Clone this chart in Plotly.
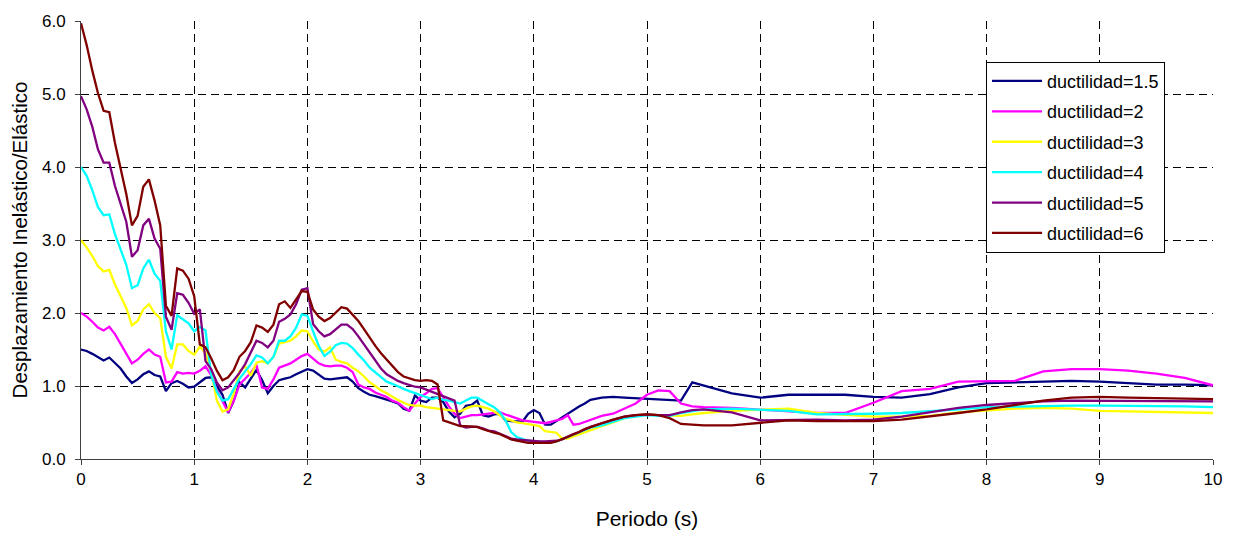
import numpy as np
import plotly.graph_objects as go

# Period grid (s): fine step up to 4.5 s, coarser beyond
periodo = (
    [round(0.05 * i, 2) for i in range(91)]
    + [4.6, 4.7, 4.8, 4.9, 5.0, 5.1, 5.2, 5.3, 5.4, 5.5]
    + [5.75, 6.0, 6.25, 6.5, 6.75, 7.0, 7.25, 7.5, 7.75, 8.0, 8.25, 8.5,
       8.75, 9.0, 9.25, 9.5, 9.75, 10.0]
)

mu_1_5 = [
    1.50, 1.48, 1.44, 1.39, 1.35, 1.39, 1.31, 1.24, 1.13, 1.04,
    1.09, 1.16, 1.20, 1.15, 1.13, 0.93, 1.04, 1.07, 1.03, 0.98,
    0.99, 1.05, 1.11, 1.12, 1.00, 0.88, 0.63, 0.80, 1.05, 0.98,
    1.10, 1.22, 1.08, 0.90, 1.00, 1.08, 1.10, 1.12, 1.16, 1.20,
    1.23, 1.21, 1.15, 1.10, 1.09, 1.10, 1.11, 1.12, 1.06, 0.97,
    0.92, 0.88, 0.86, 0.84, 0.81, 0.79, 0.76, 0.69, 0.66, 0.87,
    0.80, 0.78, 0.84, 0.84, 0.78, 0.65, 0.57, 0.62, 0.73, 0.74,
    0.80, 0.60, 0.58, 0.61, 0.62, 0.53, 0.52, 0.51, 0.51, 0.62,
    0.67, 0.63, 0.47, 0.47, 0.52, 0.57, 0.62, 0.68, 0.72, 0.76,
    0.81,
    0.84, 0.85, 0.84, 0.83, 0.83, 0.81, 0.80, 0.80, 1.05, 1.01,
    0.90, 0.84, 0.88, 0.88, 0.88, 0.85, 0.84, 0.89, 0.98, 1.04,
    1.05, 1.06, 1.07, 1.06, 1.04, 1.02, 1.02, 1.01,
]

mu_2 = [
    2.00, 1.95, 1.88, 1.80, 1.76, 1.81, 1.71, 1.57, 1.43, 1.31,
    1.36, 1.44, 1.50, 1.43, 1.40, 1.05, 1.06, 1.19, 1.17, 1.18,
    1.17, 1.21, 1.27, 1.15, 0.94, 0.79, 0.64, 0.80, 1.02, 1.10,
    1.18, 1.29, 0.98, 0.96, 1.09, 1.25, 1.28, 1.31, 1.36, 1.41,
    1.44, 1.37, 1.31, 1.28, 1.27, 1.28, 1.28, 1.25, 1.19, 1.02,
    0.98, 0.96, 0.91, 0.88, 0.85, 0.80, 0.77, 0.71, 0.66, 0.76,
    0.85, 0.90, 0.96, 0.97, 0.85, 0.72, 0.62, 0.56, 0.58, 0.60,
    0.60, 0.61, 0.62, 0.63, 0.64, 0.61, 0.58, 0.55, 0.53, 0.52,
    0.51, 0.50, 0.49, 0.51, 0.53, 0.55, 0.60, 0.47, 0.48, 0.51,
    0.54,
    0.59, 0.62, 0.69, 0.76, 0.88, 0.94, 0.93, 0.76, 0.72, 0.71,
    0.70, 0.68, 0.65, 0.63, 0.63, 0.77, 0.93, 0.96, 1.06, 1.07,
    1.07, 1.20, 1.23, 1.23, 1.21, 1.17, 1.11, 1.01,
]

mu_3 = [
    3.00, 2.90, 2.78, 2.64, 2.57, 2.59, 2.39, 2.22, 2.07, 1.83,
    1.89, 2.05, 2.12, 2.00, 1.93, 1.40, 1.24, 1.57, 1.57, 1.48,
    1.43, 1.54, 1.45, 1.20, 0.80, 0.65, 0.68, 0.90, 1.20, 1.27,
    1.14, 1.32, 1.34, 1.31, 1.40, 1.58, 1.60, 1.62, 1.68, 1.76,
    1.75, 1.61, 1.50, 1.47, 1.53, 1.36, 1.33, 1.31, 1.25, 1.20,
    1.13, 1.05, 1.00, 0.94, 0.90, 0.85, 0.81, 0.77, 0.74, 0.73,
    0.73, 0.71, 0.70, 0.69, 0.68, 0.67, 0.66, 0.65, 0.69, 0.72,
    0.73, 0.71, 0.69, 0.65, 0.60, 0.55, 0.53, 0.50, 0.49, 0.48,
    0.47, 0.45, 0.38, 0.37, 0.36, 0.28, 0.28, 0.31, 0.34, 0.37,
    0.40,
    0.45, 0.50, 0.56, 0.60, 0.61, 0.60, 0.59, 0.59, 0.61, 0.63,
    0.66, 0.68, 0.69, 0.63, 0.60, 0.58, 0.58, 0.59, 0.64, 0.67,
    0.69, 0.70, 0.69, 0.66, 0.65, 0.65, 0.64, 0.63,
]

mu_4 = [
    4.00, 3.88, 3.68, 3.45, 3.34, 3.35, 3.08, 2.86, 2.66, 2.34,
    2.38, 2.61, 2.73, 2.54, 2.44, 1.75, 1.50, 1.97, 1.92, 1.86,
    1.75, 1.81, 1.76, 1.15, 0.92, 0.80, 0.82, 0.96, 1.10, 1.20,
    1.30, 1.42, 1.39, 1.31, 1.40, 1.62, 1.62, 1.68, 1.80, 1.98,
    1.96, 1.75, 1.55, 1.41, 1.47, 1.56, 1.59, 1.58, 1.52, 1.43,
    1.35, 1.25, 1.19, 1.12, 1.06, 1.03, 0.99, 0.96, 0.93, 0.90,
    0.87, 0.84, 0.82, 0.84, 0.81, 0.80, 0.78, 0.76, 0.80, 0.84,
    0.84, 0.79, 0.75, 0.71, 0.64, 0.53, 0.37, 0.30, 0.27, 0.25,
    0.24, 0.23, 0.23, 0.23, 0.24, 0.27, 0.30, 0.34, 0.37, 0.40,
    0.43,
    0.46, 0.51, 0.56, 0.58, 0.60, 0.59, 0.59, 0.63, 0.66, 0.68,
    0.69, 0.67, 0.66, 0.61, 0.61, 0.62, 0.63, 0.65, 0.68, 0.71,
    0.72, 0.73, 0.73, 0.73, 0.73, 0.72, 0.72, 0.71,
]

mu_5 = [
    4.97, 4.79, 4.55, 4.24, 4.06, 4.06, 3.74, 3.50, 3.25, 2.77,
    2.86, 3.20, 3.29, 3.02, 2.88, 1.95, 1.77, 2.27, 2.25, 2.14,
    1.99, 2.05, 1.34, 1.23, 1.05, 0.94, 0.98, 1.08, 1.18, 1.30,
    1.47, 1.62, 1.59, 1.53, 1.62, 1.88, 1.92, 1.98, 2.12, 2.32,
    2.34, 1.85, 1.75, 1.68, 1.71, 1.78, 1.84, 1.84, 1.78, 1.68,
    1.57, 1.45, 1.34, 1.24, 1.16, 1.11, 1.07, 1.04, 1.01, 0.99,
    0.98, 0.95, 0.93, 0.90, 0.87, 0.84, 0.80, 0.46, 0.43, 0.44,
    0.44, 0.42, 0.39, 0.38, 0.35, 0.31, 0.28, 0.27, 0.26, 0.25,
    0.25, 0.24, 0.24, 0.24, 0.25, 0.27, 0.31, 0.34, 0.37, 0.41,
    0.44,
    0.49, 0.54, 0.58, 0.60, 0.61, 0.60, 0.60, 0.64, 0.67, 0.68,
    0.64, 0.53, 0.54, 0.54, 0.53, 0.54, 0.58, 0.64, 0.70, 0.74,
    0.77, 0.79, 0.80, 0.80, 0.80, 0.80, 0.79, 0.79,
]

mu_6 = [
    5.97, 5.67, 5.32, 5.01, 4.77, 4.75, 4.33, 3.97, 3.63, 3.20,
    3.33, 3.73, 3.83, 3.54, 3.20, 2.10, 1.96, 2.61, 2.58, 2.47,
    2.23, 1.57, 1.53, 1.38, 1.21, 1.08, 1.12, 1.22, 1.40, 1.48,
    1.60, 1.83, 1.80, 1.74, 1.84, 2.12, 2.16, 2.07, 2.18, 2.30,
    2.29, 2.05, 1.95, 1.89, 1.93, 2.00, 2.08, 2.06, 1.98, 1.89,
    1.78, 1.66, 1.55, 1.45, 1.36, 1.27, 1.19, 1.13, 1.10, 1.08,
    1.07, 1.08, 1.07, 1.02, 0.53, 0.50, 0.48, 0.45, 0.45, 0.45,
    0.44, 0.41, 0.38, 0.36, 0.34, 0.30, 0.27, 0.25, 0.23, 0.22,
    0.22, 0.22, 0.21, 0.22, 0.24, 0.27, 0.31, 0.34, 0.37, 0.41,
    0.44,
    0.49, 0.54, 0.58, 0.60, 0.61, 0.60, 0.56, 0.48, 0.47, 0.46,
    0.46, 0.50, 0.53, 0.52, 0.52, 0.52, 0.54, 0.58, 0.63, 0.68,
    0.74, 0.80, 0.84, 0.85, 0.84, 0.83, 0.82, 0.82,
]

series_names = ["ductilidad=1.5", "ductilidad=2", "ductilidad=3",
                "ductilidad=4", "ductilidad=5", "ductilidad=6"]
series_values = [mu_1_5, mu_2, mu_3, mu_4, mu_5, mu_6]
series_colors = ["#000080", "#FF00FF", "#FFFF00", "#00FFFF", "#800080", "#800000"]

x_ticks = list(range(0, 11))
y_ticks = [0.0, 1.0, 2.0, 3.0, 4.0, 5.0, 6.0]

FONT = "Liberation Sans, Arial, sans-serif"

fig = go.Figure()
for i, (name, vals, col) in enumerate(zip(series_names, series_values, series_colors)):
    fig.add_trace(go.Scatter(
        x=periodo, y=vals, mode="lines", name=name,
        legendgroup=f"g{i}",
        line=dict(color=col, width=2.3),
    ))

grid_style = dict(showgrid=True, gridcolor="#000000", gridwidth=1, griddash="8px,5px")

fig.update_layout(
    width=1238, height=538,
    margin=dict(l=81, r=25, t=18, b=79),
    paper_bgcolor="white", plot_bgcolor="white",
    font=dict(family=FONT, size=17, color="#000000"),
    showlegend=True,
    legend=dict(
        x=0.7995, y=0.907, xanchor="left", yanchor="top",
        bgcolor="white", bordercolor="#000000", borderwidth=1,
        font=dict(family=FONT, size=18, color="#000000"),
        tracegroupgap=4,
        itemwidth=50,
    ),
    xaxis=dict(
        range=[0, 10], tickvals=x_ticks, ticktext=[str(v) for v in x_ticks],
        ticks="outside", ticklen=5, tickcolor="#404040",
        showline=True, linecolor="#404040", linewidth=1,
        zeroline=False,
        title=dict(text="Periodo (s)", font=dict(size=21), standoff=22),
        tickfont=dict(size=17),
        **grid_style,
    ),
    yaxis=dict(
        range=[0, 6], tickvals=y_ticks, tickformat=".1f",
        ticks="outside", ticklen=5, tickcolor="#404040",
        showline=True, linecolor="#404040", linewidth=1,
        zeroline=False,
        title=dict(text="Desplazamiento Inelástico/Elástico", font=dict(size=20.5), standoff=8),
        tickfont=dict(size=17),
        ticklabelstandoff=6,
        **grid_style,
    ),
)

fig.write_html("out.html")
